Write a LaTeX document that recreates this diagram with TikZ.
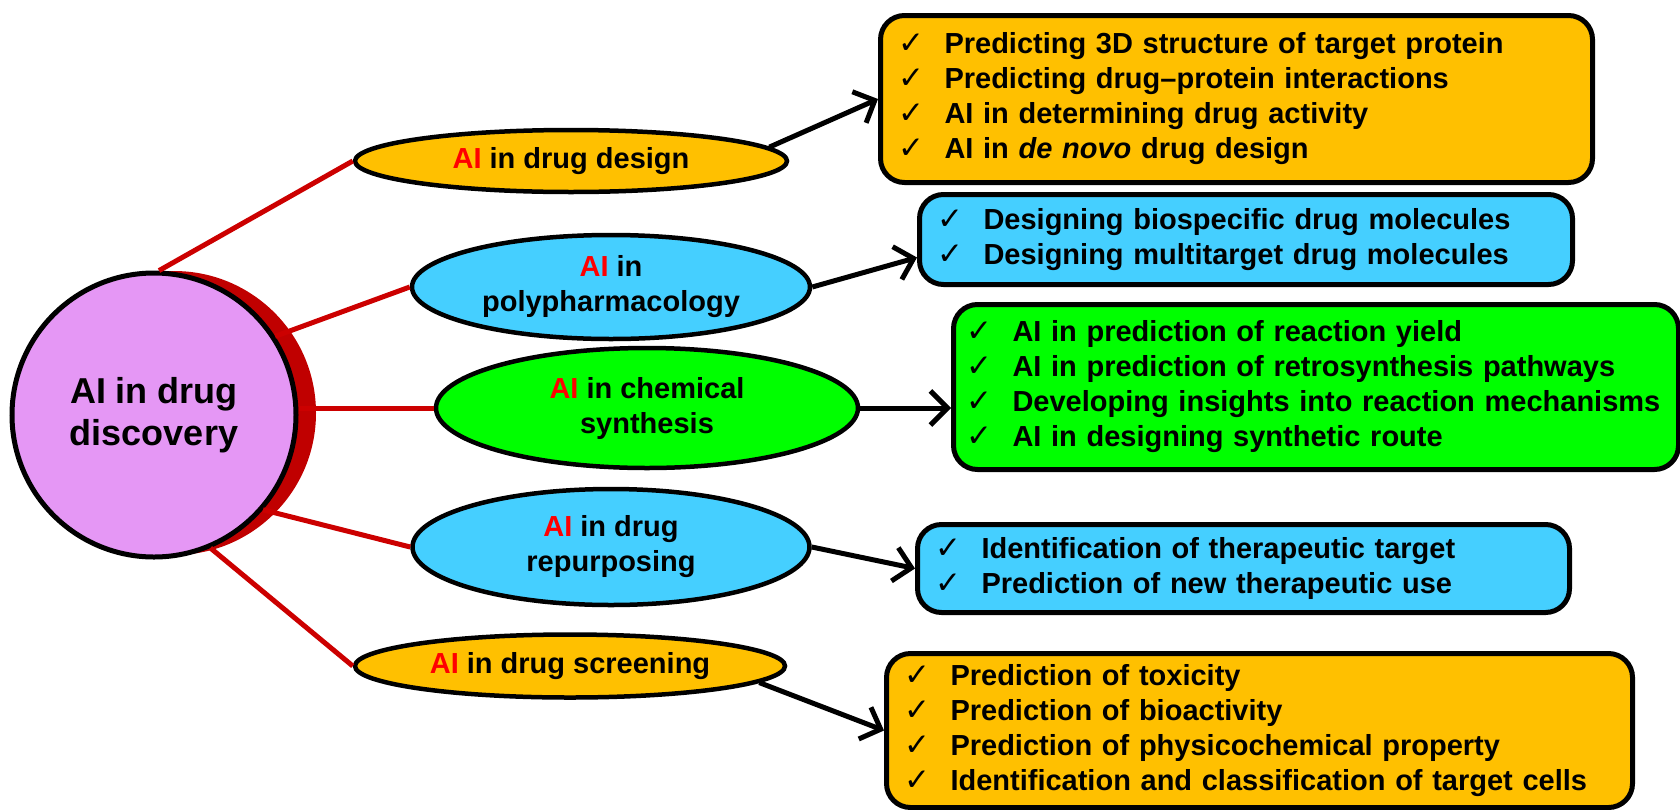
\documentclass[tikz,border=0pt]{standalone}
\usepackage{fontspec}
\setmainfont{Liberation Sans}
\newfontfamily\checkfont{DejaVu Sans}
\usetikzlibrary{shapes.geometric,arrows.meta,shadows}

\definecolor{hubviolet}{HTML}{E597F5}
\definecolor{hubshadow}{HTML}{C00000}
\definecolor{spokered}{HTML}{CC0000}
\definecolor{panelorange}{HTML}{FFC000}
\definecolor{panelblue}{HTML}{45CFFF}
\definecolor{panelgreen}{HTML}{00FF00}

\newcommand{\ai}{\textcolor{red}{AI}}
% one ticked line of a list, never broken
\newcommand{\chkline}[1]{\mbox{\makebox[46pt][l]{\checkfont\mdseries\fontsize{31}{31}\selectfont ✓}#1}}

\begin{document}
\begin{tikzpicture}[
  x=1pt, y=-1pt,
  every node/.style={font=\fontsize{29}{35}\selectfont\bfseries},
  hub/.style={circle, draw=black, line width=5pt, fill=hubviolet, minimum size=284pt, inner sep=0pt,
    align=center, font=\fontsize{36}{42}\selectfont\bfseries,
    drop shadow={fill=hubshadow, opacity=1, shadow xshift=20pt, shadow yshift=2pt}},
  topic/.style={ellipse, draw=black, line width=4.5pt, inner sep=0pt, align=center},
  panel/.style={rectangle, rounded corners=24pt, draw=black, line width=5pt, inner xsep=18pt,
    inner ysep=0pt, align=left, anchor=north west},
  spoke/.style={draw=spokered, line width=5pt},
  link/.style={draw=black, line width=5pt, -{Straight Barb[length=17pt,width=34pt]}}
]
  \useasboundingbox (0,0) rectangle (1680,809);

  % centre
  \node[hub] (disc) at (154,415) {AI in drug\\discovery};

  % branches
  \node[topic, fill=panelorange, minimum width=432pt, minimum height=62pt] (design) at (571,161) {\ai{} in drug design};
  \node[topic, fill=panelblue, minimum width=398pt, minimum height=104pt] (poly) at (611,287) {\ai{} in\\polypharmacology};
  \node[topic, fill=panelgreen, minimum width=422pt, minimum height=120pt] (synth) at (647,408) {\ai{} in chemical\\synthesis};
  \node[topic, fill=panelblue, minimum width=397pt, minimum height=116pt] (repurp) at (611,547) {\ai{} in drug\\repurposing};
  \node[topic, fill=panelorange, minimum width=430pt, minimum height=63pt] (screen) at (570,666) {\ai{} in drug screening};

  % lists
  \node[panel, fill=panelorange, minimum width=712pt, minimum height=167pt, text width=676pt] (designbox) at (878,13)
    {\chkline{Predicting 3D structure of target protein}\\
     \chkline{Predicting drug--protein interactions}\\
     \chkline{AI in determining drug activity}\\
     \chkline{AI in \textit{de novo} drug design}};
  \node[panel, fill=panelblue, minimum width=653pt, minimum height=90pt, text width=617pt] (polybox) at (917,192)
    {\chkline{Designing biospecific drug molecules}\\
     \chkline{Designing multitarget drug molecules}};
  \node[panel, fill=panelgreen, minimum width=725pt, minimum height=165pt, text width=699pt, inner xsep=13pt] (synthbox) at (951,302)
    {\chkline{AI in prediction of reaction yield}\\
     \chkline{AI in prediction of retrosynthesis pathways}\\
     \chkline{Developing insights into reaction mechanisms}\\
     \chkline{AI in designing synthetic route}};
  \node[panel, fill=panelblue, minimum width=652pt, minimum height=88pt, text width=616pt] (repurpbox) at (915,522)
    {\chkline{Identification of therapeutic target}\\
     \chkline{Prediction of new therapeutic use}};
  \node[panel, fill=panelorange, minimum width=746pt, minimum height=154pt, text width=710pt] (screenbox) at (884,651)
    {\chkline{Prediction of toxicity}\\
     \chkline{Prediction of bioactivity}\\
     \chkline{Prediction of physicochemical property}\\
     \chkline{Identification and classification of target cells}};

  \draw[spoke] (disc.88) -- (design.west);
  \draw[spoke] (disc.33) -- (poly.west);
  \draw[spoke] (synth.west -| disc.east) -- (synth.west);
  \draw[spoke] (disc.-41) -- (repurp.west);
  \draw[spoke] (disc.-67) -- (screen.west);

  \draw[link] (design.4) -- (designbox.west);
  \draw[link] (poly.east) -- ([yshift=-18pt]polybox.west);
  \draw[link] (synth.east) -- (synth.east -| synthbox.west);
  \draw[link] (repurp.east) -- (repurpbox.west);
  \draw[link] (screen.-5) -- (screenbox.west);
\end{tikzpicture}
\end{document}
